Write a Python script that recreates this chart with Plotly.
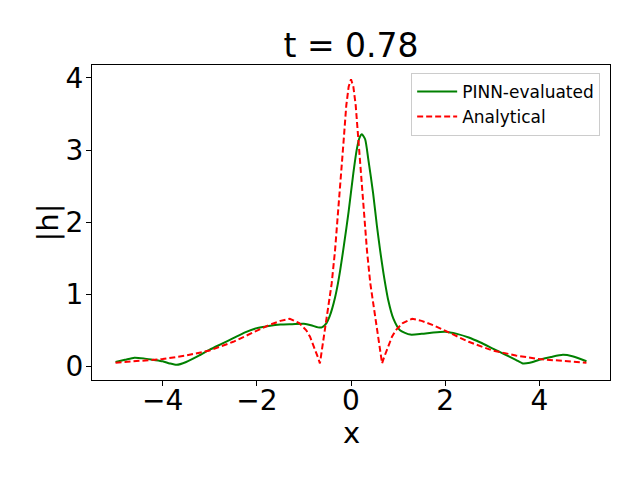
import plotly.graph_objects as go

# Analytical |h| (red dashed)
x_exact = [-5.0, -4.5, -4.0, -3.5, -3.0, -2.5, -2.0, -1.75, -1.5, -1.3, -1.1, -0.95, -0.87, -0.77,
           -0.7, -0.66, -0.62, -0.55, -0.48, -0.41, -0.34, -0.27, -0.2, -0.16, -0.1, -0.05, 0.0,
           0.05, 0.1, 0.16, 0.2, 0.27, 0.34, 0.41, 0.48, 0.55, 0.62, 0.66, 0.7, 0.77, 0.87, 0.95,
           1.1, 1.3, 1.5, 1.75, 2.0, 2.5, 3.0, 3.5, 4.0, 4.5, 5.0]
h_exact = [0.05, 0.07, 0.10, 0.15, 0.22, 0.34, 0.49, 0.57, 0.63, 0.66, 0.60, 0.50, 0.41, 0.25,
           0.12, 0.04, 0.22, 0.52, 0.82, 1.15, 1.60, 2.15, 2.75, 3.10, 3.62, 3.88, 3.98,
           3.88, 3.62, 3.10, 2.75, 2.15, 1.60, 1.15, 0.82, 0.52, 0.22, 0.04, 0.12, 0.25, 0.41, 0.50,
           0.60, 0.66, 0.63, 0.57, 0.49, 0.34, 0.22, 0.15, 0.10, 0.07, 0.05]

# PINN-evaluated |h| (green solid)
x_pinn = [-5.0, -4.8, -4.6, -4.4, -4.2, -4.0, -3.85, -3.7, -3.5, -3.25, -3.0, -2.75, -2.5, -2.25,
          -2.0, -1.75, -1.5, -1.25, -1.0, -0.85, -0.7, -0.62, -0.52, -0.45, -0.4, -0.34, -0.28,
          -0.23, -0.15, -0.05, 0.05, 0.12, 0.18, 0.23, 0.3, 0.37, 0.47, 0.55, 0.62, 0.69, 0.79,
          0.9, 1.04, 1.26, 1.5, 1.75, 2.0, 2.25, 2.5, 2.75, 3.0, 3.25, 3.5, 3.65, 3.8, 4.0,
          4.25, 4.5, 4.7, 5.0]
h_pinn = [0.06, 0.09, 0.12, 0.11, 0.09, 0.07, 0.04, 0.02, 0.06, 0.14, 0.23, 0.31, 0.39, 0.47,
          0.53, 0.56, 0.58, 0.585, 0.59, 0.57, 0.54, 0.54, 0.60, 0.70, 0.80, 0.95, 1.14,
          1.33, 1.68, 2.15, 2.68, 3.00, 3.17, 3.22, 3.15, 2.86, 2.40, 1.95, 1.60, 1.29, 0.92,
          0.66, 0.50, 0.44, 0.45, 0.47, 0.48, 0.45, 0.40, 0.33, 0.25, 0.17, 0.09, 0.04, 0.05, 0.09,
          0.13, 0.16, 0.14, 0.07]

title_text = "t = 0.78"
x_ticks = [-4, -2, 0, 2, 4]
y_ticks = [0, 1, 2, 3, 4]
x_tick_text = ["\u22124", "\u22122", "0", "2", "4"]

FONT = "DejaVu Sans"

# page body has an 8px offset; compensate so plot area sits at (92..610, 65..380) on screen
OFF = 8
L, T, PW, PH = 92 - OFF, 65 - OFF, 518, 315

fig = go.Figure()
fig.add_trace(go.Scatter(x=x_pinn, y=h_pinn, mode="lines", name="PINN-evaluated",
                         line=dict(color="green", width=2, shape="spline", smoothing=0.6)))
fig.add_trace(go.Scatter(x=x_exact, y=h_exact, mode="lines", name="Analytical",
                         line=dict(color="red", width=2, dash="6px,3px")))

axis_common = dict(showgrid=False, zeroline=False, showline=True, mirror=True,
                   linecolor="black", linewidth=1, ticks="outside", ticklen=5,
                   tickcolor="black", tickwidth=1,
                   tickfont=dict(family=FONT, size=28, color="black"))

fig.update_layout(
    width=640, height=480,
    margin=dict(l=L, r=640 - L - PW, t=T, b=480 - T - PH, autoexpand=False),
    paper_bgcolor="white", plot_bgcolor="white",
    title=dict(text=title_text, x=(351 - OFF) / 640, xanchor="center",
               y=1 - (45 - OFF) / 480, yanchor="middle",
               font=dict(family=FONT, size=33, color="black")),
    xaxis=dict(range=[-5.5, 5.5], tickvals=x_ticks, ticktext=x_tick_text,
               ticklabelstandoff=-10, automargin=False, **axis_common),
    yaxis=dict(range=[-0.19, 4.18], tickvals=y_ticks, ticklabelstandoff=-3,
               automargin=False, **axis_common),
    legend=dict(x=0.981, y=0.975, xanchor="right", yanchor="top",
                bgcolor="rgba(255,255,255,0.8)", bordercolor="#cccccc", borderwidth=1,
                itemwidth=40,
                font=dict(family=FONT, size=17, color="black"), tracegroupgap=0),
    showlegend=True,
    annotations=[
        dict(text="x", xref="paper", yref="paper", x=0.5, y=(380 - 433) / PH,
             xanchor="center", yanchor="middle", showarrow=False,
             font=dict(family=FONT, size=29, color="black")),
        dict(text="|h|", xref="paper", yref="paper", x=(47 - 92) / PW, y=0.5,
             xanchor="center", yanchor="middle", showarrow=False, textangle=-90,
             font=dict(family=FONT, size=29, color="black")),
    ],
)

fig.write_html("out.html")
